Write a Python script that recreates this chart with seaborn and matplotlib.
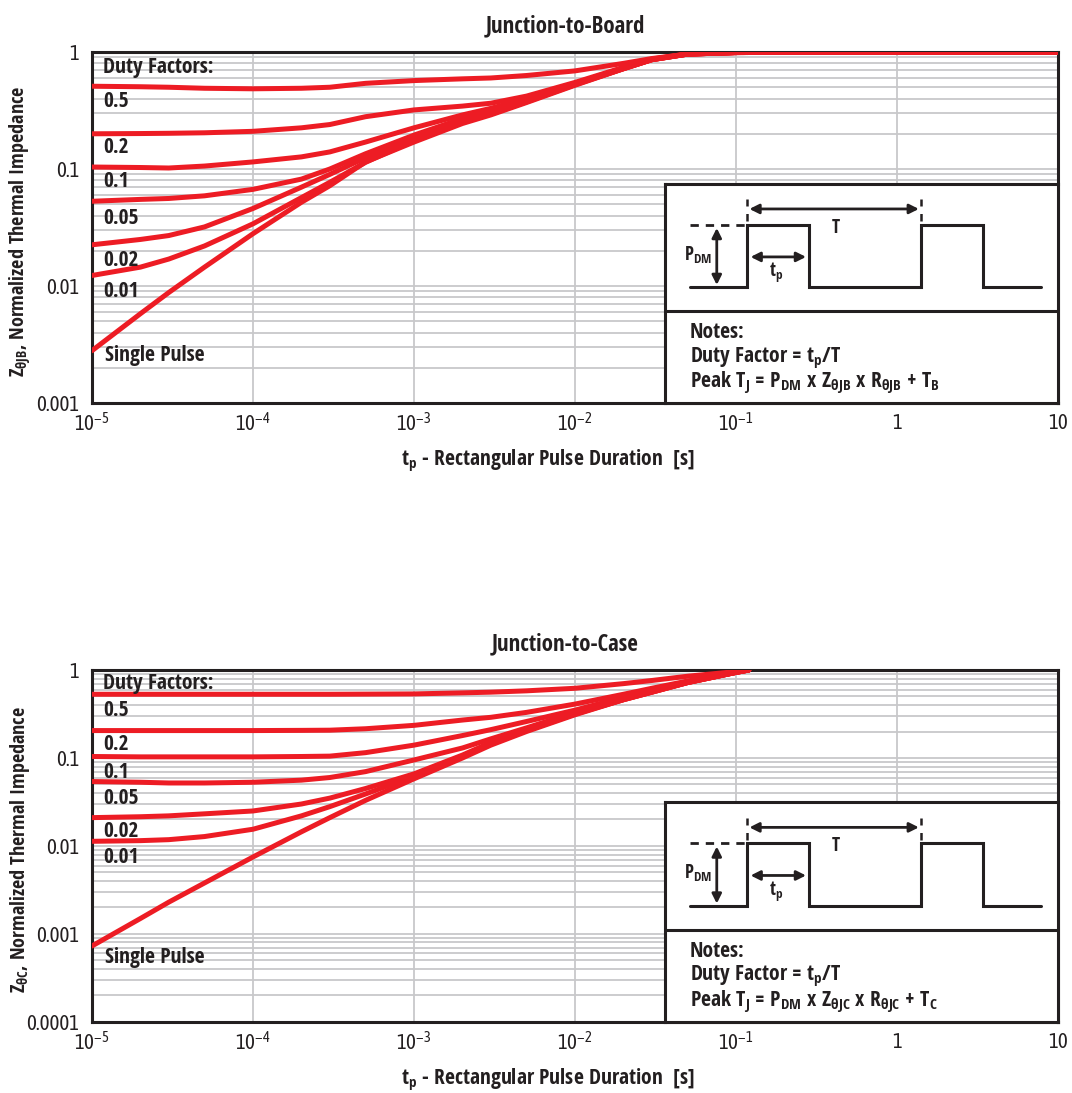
import numpy as np
import pandas as pd
import matplotlib
matplotlib.use("Agg")
import matplotlib.pyplot as plt
import seaborn as sns
from matplotlib import font_manager as fm
from matplotlib.ticker import LogLocator, FixedLocator, FixedFormatter, NullFormatter

# ---------------- data ----------------
t_jb = [1e-5, 2e-5, 3e-5, 5e-5, 1e-4, 2e-4, 3e-4, 5e-4, 1e-3, 2e-3, 3e-3, 5e-3,
        1e-2, 2e-2, 3e-2, 5e-2, 1e-1, 1.0, 10.0]
jb_d50 = [0.51, 0.505, 0.50, 0.49, 0.485, 0.49, 0.50, 0.54, 0.57, 0.59, 0.60, 0.63,
          0.69, 0.80, 0.88, 0.96, 0.99, 1.0, 1.0]
jb_d20 = [0.200, 0.201, 0.202, 0.204, 0.21, 0.225, 0.24, 0.28, 0.32, 0.345, 0.365, 0.42,
          0.55, 0.74, 0.87, 0.965, 0.99, 1.0, 1.0]
jb_d10 = [0.104, 0.103, 0.102, 0.106, 0.115, 0.127, 0.14, 0.17, 0.225, 0.29, 0.33, 0.40,
          0.54, 0.73, 0.865, 0.96, 0.99, 1.0, 1.0]
jb_d05 = [0.053, 0.055, 0.056, 0.059, 0.067, 0.082, 0.10, 0.135, 0.195, 0.27, 0.31, 0.39,
          0.535, 0.725, 0.86, 0.96, 0.99, 1.0, 1.0]
jb_d02 = [0.0225, 0.025, 0.027, 0.032, 0.046, 0.07, 0.09, 0.125, 0.185, 0.26, 0.30, 0.38,
          0.53, 0.72, 0.86, 0.96, 0.99, 1.0, 1.0]
jb_d01 = [0.0123, 0.0145, 0.017, 0.022, 0.034, 0.057, 0.077, 0.114, 0.175, 0.25, 0.295, 0.375,
          0.525, 0.72, 0.86, 0.96, 0.99, 1.0, 1.0]
jb_single = [0.0028, 0.0058, 0.0088, 0.0145, 0.028, 0.052, 0.072, 0.115, 0.17, 0.245, 0.29, 0.37,
             0.52, 0.72, 0.86, 0.96, 0.99, 1.0, 1.0]

t_jc = [1e-5, 2e-5, 3e-5, 5e-5, 1e-4, 2e-4, 3e-4, 5e-4, 1e-3, 2e-3, 3e-3, 5e-3,
        1e-2, 2e-2, 3e-2, 5e-2, 1e-1, 1.2e-1]
jc_d50 = [0.53, 0.53, 0.53, 0.53, 0.53, 0.53, 0.53, 0.532, 0.535, 0.55, 0.56, 0.58,
          0.62, 0.70, 0.76, 0.85, 0.96, 1.0]
jc_d20 = [0.205, 0.205, 0.205, 0.205, 0.205, 0.206, 0.207, 0.215, 0.235, 0.27, 0.29, 0.33,
          0.41, 0.53, 0.62, 0.75, 0.94, 1.0]
jc_d10 = [0.104, 0.103, 0.103, 0.103, 0.103, 0.104, 0.105, 0.115, 0.14, 0.18, 0.21, 0.26,
          0.35, 0.49, 0.58, 0.73, 0.94, 1.0]
jc_d05 = [0.054, 0.053, 0.052, 0.052, 0.053, 0.056, 0.06, 0.07, 0.095, 0.13, 0.165, 0.22,
          0.33, 0.47, 0.57, 0.72, 0.94, 1.0]
jc_d02 = [0.021, 0.0215, 0.022, 0.0232, 0.025, 0.03, 0.035, 0.045, 0.066, 0.108, 0.15, 0.21,
          0.32, 0.46, 0.56, 0.72, 0.94, 1.0]
jc_d01 = [0.0113, 0.0115, 0.0118, 0.0128, 0.0155, 0.022, 0.028, 0.039, 0.062, 0.105, 0.145, 0.205,
          0.315, 0.46, 0.56, 0.72, 0.94, 1.0]
jc_single = [0.00073, 0.0015, 0.0023, 0.0038, 0.0075, 0.0145, 0.021, 0.033, 0.058, 0.10, 0.14, 0.20,
             0.31, 0.46, 0.56, 0.72, 0.94, 1.0]

curve_names = ["0.5", "0.2", "0.1", "0.05", "0.02", "0.01", "Single Pulse"]
x_ticks = [1e-5, 1e-4, 1e-3, 1e-2, 1e-1, 1, 10]
x_ticklabels = [r"$10^{-5}$", r"$10^{-4}$", r"$10^{-3}$", r"$10^{-2}$", r"$10^{-1}$", "1", "10"]
y_ticks_jb = [1e-3, 1e-2, 1e-1, 1]
y_ticklabels_jb = ["0.001", "0.01", "0.1", "1"]
y_ticks_jc = [1e-4, 1e-3, 1e-2, 1e-1, 1]
y_ticklabels_jc = ["0.0001", "0.001", "0.01", "0.1", "1"]

# ---------------- style ----------------
sns.set_style("white")
names = {f.name for f in fm.fontManager.ttflist}
FAM, STRETCH = "DejaVu Sans", "condensed"
for cand in ["Noto Sans Condensed", "Noto Sans SemiCondensed", "Liberation Sans Narrow",
             "Open Sans Condensed", "Roboto Condensed"]:
    if cand in names:
        FAM, STRETCH = cand, "normal"
        break
TICKFAM = FAM
for cand in ["Asap Condensed", "Encode Sans Condensed", "Barlow Semi Condensed"]:
    if cand in names:
        TICKFAM = cand
        break
plt.rcParams["font.family"] = [FAM, "DejaVu Sans"]
plt.rcParams["font.stretch"] = STRETCH
plt.rcParams["mathtext.default"] = "regular"

RED = "#ed1c24"
INK = "#231f20"
GRID = "#c8c8ca"

fig = plt.figure(figsize=(10.72, 10.93), dpi=100)
ax1 = fig.add_axes([0.0858, 0.6313, 0.9012, 0.3211])
ax2 = fig.add_axes([0.0858, 0.0650, 0.9012, 0.3220])


def make_df(t, series):
    rows = []
    for name, vals in zip(curve_names, series):
        for tv, zv in zip(t, vals):
            rows.append((name, tv, zv))
    return pd.DataFrame(rows, columns=["curve", "t", "z"])


def style_axes(ax, yticks, yticklabels, ylim, ylab, title):
    ax.set_xscale("log")
    ax.set_yscale("log")
    ax.set_xlim(1e-5, 10)
    ax.set_ylim(*ylim)
    ax.xaxis.set_major_locator(FixedLocator(x_ticks))
    ax.xaxis.set_major_formatter(FixedFormatter(x_ticklabels))
    ax.xaxis.set_minor_locator(FixedLocator([]))
    ax.yaxis.set_major_locator(FixedLocator(yticks))
    ax.yaxis.set_major_formatter(FixedFormatter(yticklabels))
    ax.yaxis.set_minor_locator(LogLocator(base=10, subs=np.arange(2, 10), numticks=40))
    ax.yaxis.set_minor_formatter(NullFormatter())
    ax.grid(True, which="major", axis="both", color=GRID, lw=1.3, zorder=0)
    ax.grid(True, which="minor", axis="y", color=GRID, lw=1.3, zorder=0)
    ax.tick_params(axis="x", which="both", length=0, pad=7, colors=INK)
    ax.tick_params(axis="y", which="major", length=5, width=1.2, color=GRID, pad=4,
                   labelcolor=INK)
    ax.tick_params(axis="y", which="minor", length=0)
    for lab in ax.get_xticklabels() + ax.get_yticklabels():
        lab.set_family([TICKFAM, FAM, "DejaVu Sans"])
        lab.set_fontweight("normal")
        lab.set_fontsize(15)
    for s in ax.spines.values():
        s.set_visible(True)
        s.set_color(INK)
        s.set_linewidth(2.2)
    ax.set_xlabel(r"$t_p$ - Rectangular Pulse Duration  [s]", fontsize=15.5,
                  fontweight="bold", color=INK, va="top")
    ax.xaxis.set_label_coords(0.472, -0.128)
    ax.set_ylabel(ylab, fontsize=14.5, fontweight="bold", color=INK)
    ax.yaxis.set_label_coords(-0.062, 0.49)
    ax.set_title(title, fontsize=16.5, fontweight="bold", color=INK, pad=14, x=0.49)


def draw_curves(ax, df):
    for name in curve_names:
        sub = df[df["curve"] == name]
        sns.lineplot(data=sub, x="t", y="z", ax=ax, color=RED, lw=3.6,
                     estimator=None, sort=False, legend=False, zorder=3)
    ax.set_xlabel("")
    ax.set_ylabel("")


def draw_labels(ax, positions):
    labels = ["Duty Factors:"] + curve_names
    for lab, v in zip(labels, positions):
        x = 0.0114 if lab != "Single Pulse" else 0.0135
        ax.text(x, v, lab, transform=ax.transAxes, fontsize=15.5, fontweight="bold",
                color=INK, ha="left", va="center", zorder=4)


def draw_inset(ax, suffix):
    ins = ax.inset_axes([0.593, 0.0, 0.407, 0.624])
    ins.set_zorder(6)
    ins.set_facecolor("white")
    ins.set_xlim(0, 1)
    ins.set_ylim(0, 1)
    ins.set_xticks([])
    ins.set_yticks([])
    for s in ins.spines.values():
        s.set_color(INK)
        s.set_linewidth(2.2)
    lo, hi = 0.530, 0.813
    xs = [0.063, 0.210, 0.210, 0.367, 0.367, 0.651, 0.651, 0.810, 0.810, 0.957]
    ys = [lo, lo, hi, hi, lo, lo, hi, hi, lo, lo]
    ins.plot(xs, ys, color=INK, lw=2.2, solid_joinstyle="miter")
    ins.plot([0.063, 0.205], [hi, hi], color=INK, lw=2.0, ls=(0, (3, 2.5)))
    for xv in (0.210, 0.651):
        ins.plot([xv, xv], [0.830, 0.930], color=INK, lw=1.8, ls=(0, (3, 3)))
    ins.axhline(0.420, color=INK, lw=2.2)
    ap = dict(arrowstyle="<|-|>", color=INK, lw=2.0, mutation_scale=14,
              shrinkA=0, shrinkB=0)
    ins.annotate("", xy=(0.215, 0.886), xytext=(0.646, 0.886), arrowprops=ap)
    ins.annotate("", xy=(0.132, 0.799), xytext=(0.132, 0.539), arrowprops=ap)
    ins.annotate("", xy=(0.218, 0.667), xytext=(0.359, 0.667), arrowprops=ap)
    ins.text(0.435, 0.800, "T", fontsize=13.5, fontweight="bold", color=INK,
             ha="center", va="center")
    ins.text(0.119, 0.676, r"P$_{DM}$", fontsize=13.5, fontweight="bold", color=INK,
             ha="right", va="center")
    ins.text(0.284, 0.598, r"t$_p$", fontsize=13.5, fontweight="bold", color=INK,
             ha="center", va="center")
    ins.text(0.063, 0.320, "Notes:", fontsize=15.5, fontweight="bold", color=INK,
             ha="left", va="center")
    ins.text(0.063, 0.205, r"Duty Factor = t$_p$/T", fontsize=15.5, fontweight="bold",
             color=INK, ha="left", va="center")
    ins.text(0.063, 0.091,
             r"Peak T$_J$ = P$_{DM}$ x Z$_{θJ%s}$ x R$_{θJ%s}$ + T$_%s$" % (suffix, suffix, suffix),
             fontsize=15.5, fontweight="bold", color=INK, ha="left", va="center")


df_jb = make_df(t_jb, [jb_d50, jb_d20, jb_d10, jb_d05, jb_d02, jb_d01, jb_single])
df_jc = make_df(t_jc, [jc_d50, jc_d20, jc_d10, jc_d05, jc_d02, jc_d01, jc_single])

draw_curves(ax1, df_jb)
draw_curves(ax2, df_jc)

style_axes(ax1, y_ticks_jb, y_ticklabels_jb, (1e-3, 1),
           r"Z$_{θJB}$, Normalized Thermal Impedance", "Junction-to-Board")
style_axes(ax2, y_ticks_jc, y_ticklabels_jc, (1e-4, 1),
           r"Z$_{θC}$, Normalized Thermal Impedance", "Junction-to-Case")

draw_labels(ax1, [0.957, 0.860, 0.729, 0.630, 0.527, 0.407, 0.319, 0.134])
draw_labels(ax2, [0.963, 0.886, 0.787, 0.710, 0.636, 0.540, 0.466, 0.182])

draw_inset(ax1, "B")
draw_inset(ax2, "C")

fig.savefig("out.png", dpi=100, facecolor="white")
